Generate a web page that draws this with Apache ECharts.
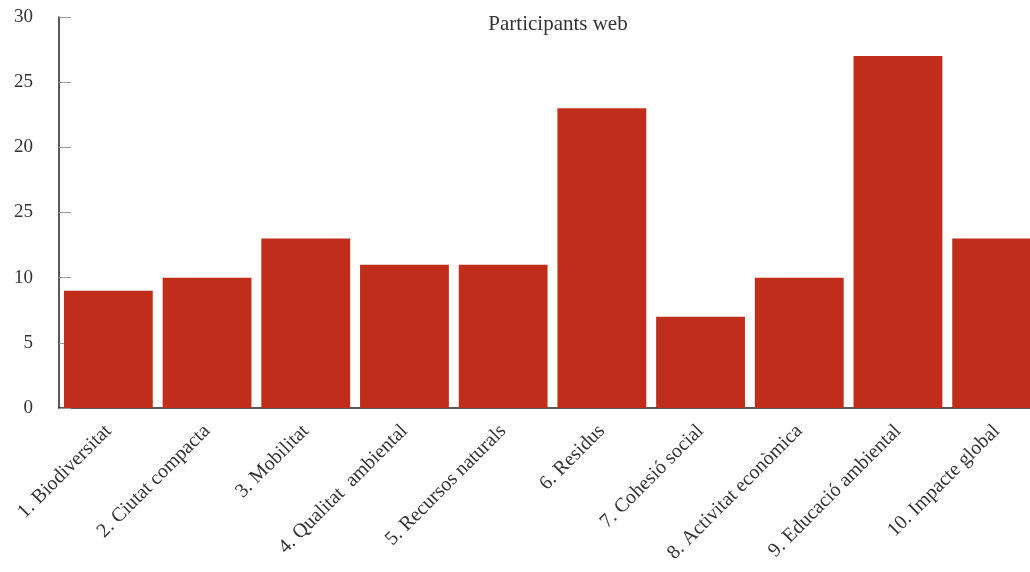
<!DOCTYPE html>
<html><head><meta charset="utf-8">
<script src="https://cdn.jsdelivr.net/npm/echarts@6/dist/echarts.min.js"></script>
<style>html,body{margin:0;padding:0;background:#fff;overflow:hidden;width:1030px;height:572px}#c{width:1046px;height:572px}</style>
</head><body><div id="c"></div>
<script>
const categories = ['1. Biodiversitat','2. Ciutat compacta','3. Mobilitat','4. Qualitat  ambiental','5. Recursos naturals','6. Residus','7. Cohesió social','8. Activitat econòmica','9. Educació ambiental','10. Impacte global'];
const values = [9, 10, 13, 11, 11, 23, 7, 10, 27, 13];
const yTickValues = [0, 5, 10, 15, 20, 25, 30];
const yTickLabels = ['0', '5', '10', '25', '20', '25', '30'];
const title = 'Participants web';
const font = '"Liberation Serif", "DejaVu Serif", serif';
const chart = echarts.init(document.getElementById('c'));
chart.setOption({
  animation: false,
  title: { text: title, left: 553, top: 9, textAlign: 'center', textStyle: { fontFamily: font, fontWeight: 'normal', fontSize: 21, color: '#333' } },
  grid: { left: 59, right: 0, top: 17, bottom: 164, containLabel: false },
  xAxis: {
    type: 'category', data: categories,
    axisLine: { show: true, lineStyle: { color: '#222', width: 1.5 } },
    axisTick: { show: false },
    axisLabel: { rotate: 45, interval: 0, margin: 20, fontFamily: font, fontSize: 20, color: '#333' }
  },
  yAxis: {
    type: 'value', min: 0, max: 30, interval: 5,
    splitLine: { show: false },
    axisLine: { show: true, lineStyle: { color: '#222', width: 1.5 } },
    axisTick: { show: true, inside: true, length: 12, lineStyle: { color: '#999' } },
    axisLabel: { margin: 26, fontFamily: font, fontSize: 19, color: '#333',
      formatter: v => { const i = yTickValues.indexOf(v); return i >= 0 ? yTickLabels[i] : String(v); } }
  },
  series: [{ type: 'bar', data: values, barCategoryGap: '10%', itemStyle: { color: '#c02d1a' } }]
});
</script></body></html>
